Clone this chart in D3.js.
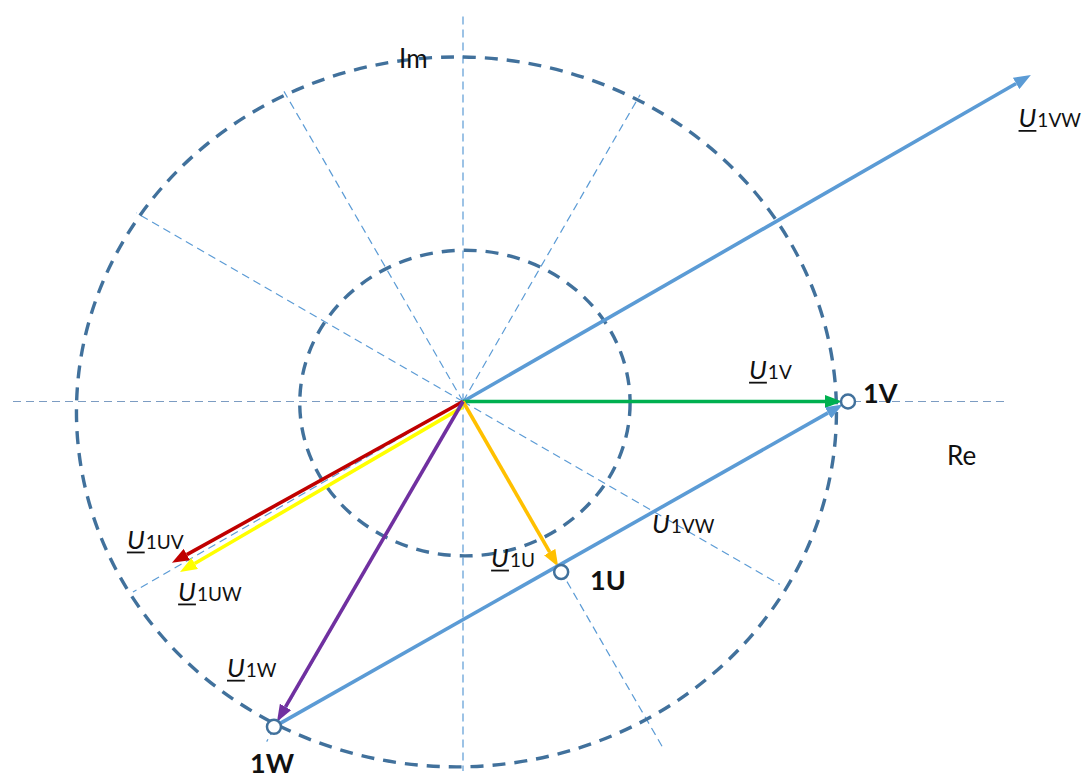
<!DOCTYPE html>
<html>
<head>
<meta charset="utf-8">
<script src="https://cdn.jsdelivr.net/npm/d3@7"></script>
<style>
body { margin: 0; background: #fff; }
text { font-family: Lato, "Liberation Sans", sans-serif; fill: #111; }
</style>
</head>
<body>
<div id="chart"></div>
<script>
// terminal points (units of |U1V|)
var pointNames = ["1U", "1V", "1W"];
var pointRe = [0.255, 1.0, -0.491];
var pointIm = [-0.443, 0.0, -0.845];

// phasors: start / end, subscripts, colours
var vecSub = ["1VW", "1V", "1U", "1UV", "1UW", "1W", "1VW"];
var vecStartRe = [0, 0, 0, 0, 0, 0, -0.491];
var vecStartIm = [0, 0, 0, 0, -0.014, 0, -0.845];
var vecEndRe = [1.475, 1.0, 0.255, -0.756, -0.735, -0.491, 1.0];
var vecEndIm = [0.848, 0.0, -0.443, -0.419, -0.443, -0.845, 0.0];
var vecColor = ["#5B9BD5", "#00B050", "#FFC000", "#C00000", "#FFFF00", "#7030A0", "#5B9BD5"];

// dashed rings (centre, radii)
var ringRe = [-0.017, 0.005];
var ringIm = [-0.027, -0.004];
var ringRx = [0.987, 0.429];
var ringRy = [0.922, 0.397];

// dashed rays every 30 degrees and their lengths
var rayAngles = [0, 30, 60, 90, 120, 150, 180, 210, 240, 270, 300, 330];
var rayLengths = [1.41, 0.95, 0.92, 1.0, 0.93, 0.98, 1.17, 0.99, 1.02, 0.96, 1.04, 0.95];

// label anchors (layout)
var labelRe = [1.443, 0.743, 0.073, -0.873, -0.740, -0.613, 0.491];
var labelIm = [0.712, 0.058, -0.430, -0.383, -0.518, -0.716, -0.342];
var labelUnderline = [true, true, true, true, true, true, false];
var pointLabelRe = [0.330, 1.039, -0.553];
var pointLabelIm = [-0.490, -0.004, -0.966];

var width = 1085, height = 781;
var cx = 463, cy = 401.5, unit = 385;

var x = d3.scaleLinear().domain([-1, 1]).range([cx - unit, cx + unit]);
var y = d3.scaleLinear().domain([-1, 1]).range([cy + unit, cy - unit]);

var svg = d3.select("#chart").append("svg")
    .attr("width", width)
    .attr("height", height);

/* arrow heads, one per colour */
var defs = svg.append("defs");
var headLen = 17, headW = 13;
vecColor.forEach(function (c, i) {
    defs.append("marker")
        .attr("id", "head" + i)
        .attr("markerUnits", "userSpaceOnUse")
        .attr("markerWidth", headLen)
        .attr("markerHeight", headW)
        .attr("refX", 0)
        .attr("refY", headW / 2)
        .attr("orient", "auto")
        .append("path")
        .attr("d", "M0,0 L" + headLen + "," + headW / 2 + " L0," + headW + " Z")
        .attr("fill", c);
});

/* rays */
svg.append("g").selectAll("line")
    .data(rayAngles)
    .enter().append("line")
    .attr("x1", x(0))
    .attr("y1", y(0))
    .attr("x2", function (d, i) { return x(rayLengths[i] * Math.cos(d * Math.PI / 180)); })
    .attr("y2", function (d, i) { return y(rayLengths[i] * Math.sin(d * Math.PI / 180)); })
    .attr("stroke", function (d) { return d % 180 === 0 ? "#7C9CC2" : "#5B9BD5"; })
    .attr("stroke-width", 1.2)
    .attr("stroke-dasharray", "8,5");

/* rings */
svg.append("g").selectAll("ellipse")
    .data(ringRe)
    .enter().append("ellipse")
    .attr("cx", function (d) { return x(d); })
    .attr("cy", function (d, i) { return y(ringIm[i]); })
    .attr("rx", function (d, i) { return x(ringRx[i]) - x(0); })
    .attr("ry", function (d, i) { return y(0) - y(ringRy[i]); })
    .attr("fill", "none")
    .attr("stroke", "#41719C")
    .attr("stroke-width", 3.4)
    .attr("stroke-dasharray", "13,9");

/* phasors */
var markR = 7;
function isPoint(re, im) {
    for (var k = 0; k < pointRe.length; k++) {
        if (pointRe[k] === re && pointIm[k] === im) return true;
    }
    return false;
}
var vecs = vecSub.map(function (s, i) {
    var x1 = x(vecStartRe[i]), y1 = y(vecStartIm[i]);
    var x2 = x(vecEndRe[i]), y2 = y(vecEndIm[i]);
    var dx = x2 - x1, dy = y2 - y1, len = Math.sqrt(dx * dx + dy * dy);
    var gap = isPoint(vecEndRe[i], vecEndIm[i]) ? markR - 1 : 0;
    var cut = gap + headLen;
    return { x1: x1, y1: y1, x2: x2 - dx / len * cut, y2: y2 - dy / len * cut, i: i };
});
svg.append("g").selectAll("line")
    .data(vecs)
    .enter().append("line")
    .attr("x1", function (d) { return d.x1; })
    .attr("y1", function (d) { return d.y1; })
    .attr("x2", function (d) { return d.x2; })
    .attr("y2", function (d) { return d.y2; })
    .attr("stroke", function (d) { return vecColor[d.i]; })
    .attr("stroke-width", 3.6)
    .attr("marker-end", function (d) { return "url(#head" + d.i + ")"; });

/* terminal points */
svg.append("g").selectAll("circle")
    .data(pointNames)
    .enter().append("circle")
    .attr("cx", function (d, i) { return x(pointRe[i]); })
    .attr("cy", function (d, i) { return y(pointIm[i]); })
    .attr("r", markR)
    .attr("fill", "#fff")
    .attr("stroke", "#41719C")
    .attr("stroke-width", 2.5);

svg.append("g").selectAll("text")
    .data(pointNames)
    .enter().append("text")
    .attr("x", function (d, i) { return x(pointLabelRe[i]); })
    .attr("y", function (d, i) { return y(pointLabelIm[i]); })
    .attr("font-size", 27)
    .attr("font-weight", "bold")
    .text(function (d) { return d; });

/* phasor labels: underlined italic U with subscript */
vecSub.forEach(function (s, i) {
    var g = svg.append("g")
        .attr("transform", "translate(" + x(labelRe[i]) + "," + y(labelIm[i]) + ")");
    var u = g.append("text")
        .attr("font-size", 26)
        .attr("font-style", "italic")
        .text("U");
    var w = u.node().getComputedTextLength();
    if (labelUnderline[i]) {
        g.append("line")
            .attr("x1", 0).attr("x2", w)
            .attr("y1", 3.5).attr("y2", 3.5)
            .attr("stroke", "#111")
            .attr("stroke-width", 1.8);
    }
    g.append("text")
        .attr("x", w + 1)
        .attr("font-size", 19)
        .text(s);
});

/* axis names */
svg.append("text").attr("x", x(-0.166)).attr("y", y(0.866)).attr("font-size", 26).text("Im");
svg.append("text").attr("x", x(1.257)).attr("y", y(-0.165)).attr("font-size", 26).text("Re");
</script>
</body>
</html>
